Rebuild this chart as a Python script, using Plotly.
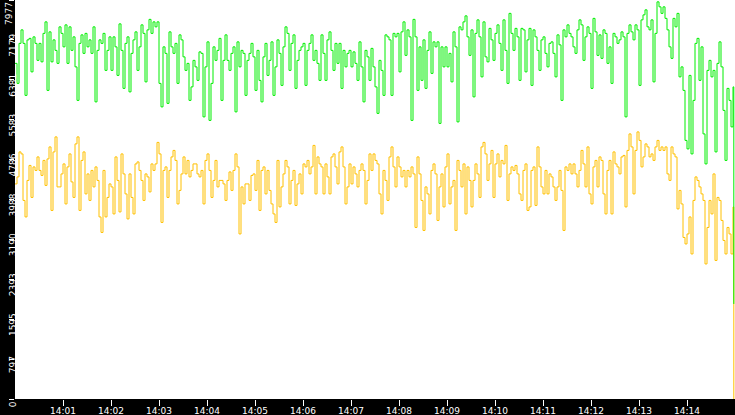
import pandas as pd
import plotly.graph_objects as go

# one sample every 2.5 seconds from 14:00:00, then the last partial sample just before 14:15
times = list(pd.date_range("2024-01-01 14:00:00", periods=360, freq="2500ms")) + [pd.Timestamp("2024-01-01 14:14:58.5")]

green_values = [
    6710, 6310, 7110, 7380, 7110, 6070, 7180, 7210, 6540, 7240, 7110, 6770, 7110, 6740, 7310, 7540, 6170, 7340, 6740, 7180, 6970, 6710, 7440, 7310,
    7040, 7480, 6710, 7440, 6970, 7240, 6640, 5970, 7110, 7280, 6910, 7310, 7040, 7180, 6910, 7440, 5940, 6970, 7180, 7110, 7310, 6570, 6970, 7240,
    6570, 7240, 7040, 6470, 7500, 6970, 6210, 7110, 7240, 6140, 6910, 7180, 7340, 6570, 7040, 7480, 7310, 6340, 7380, 7590, 7310, 7540, 7440, 7540,
    6310, 5840, 7040, 6910, 5910, 7340, 7040, 6910, 7110, 6310, 7280, 7180, 6840, 6570, 6710, 5970, 6240, 6770, 6640, 6370, 6940, 6910, 5640, 6640,
    7140, 5570, 6310, 7040, 6770, 6970, 7210, 5970, 6770, 7280, 6770, 6570, 6910, 7040, 5740, 7140, 6640, 6970, 6910, 6070, 6770, 6910, 7110, 6840,
    6170, 6970, 6370, 5940, 6840, 7110, 6470, 6770, 7140, 6070, 6640, 7180, 6910, 6270, 7040, 7440, 7310, 6570, 7110, 7280, 6210, 6770, 6970, 7040,
    7110, 6270, 6970, 7110, 7280, 6770, 6970, 6710, 6370, 7280, 6910, 6370, 7180, 7340, 6970, 6570, 7110, 6710, 7110, 6210, 6970, 6640, 6910, 6970,
    6640, 6940, 6710, 6370, 7140, 6640, 5940, 6970, 6840, 6370, 7010, 6640, 6240, 5710, 6770, 6570, 6070, 7280, 7240, 7180, 6070, 7310, 7240, 7310,
    6540, 7340, 7540, 6870, 7380, 7240, 5570, 7590, 7240, 6170, 7040, 6370, 7180, 6210, 6970, 7340, 6510, 7140, 7040, 7140, 5510, 7040, 6640, 7040,
    6640, 6910, 6340, 7340, 7040, 5540, 7440, 7380, 7540, 7660, 7240, 6870, 7380, 6040, 7310, 7580, 7240, 6440, 7540, 6840, 6740, 7410, 7180, 6770,
    7310, 7480, 7110, 6570, 7580, 6970, 6310, 7710, 7310, 6970, 7410, 7240, 6370, 7410, 7380, 6540, 7180, 7410, 6270, 7380, 7240, 6970, 6570, 7180,
    7240, 6910, 6640, 7110, 7140, 6910, 6440, 7280, 7080, 5970, 7380, 7240, 7480, 7310, 7240, 7040, 6910, 7380, 7580, 7480, 6770, 7240, 7440, 7310,
    6210, 7610, 7340, 6870, 7280, 6810, 7380, 7310, 6710, 7040, 6310, 7310, 7240, 7110, 7180, 7340, 7240, 5640, 7310, 7480, 7340, 7180, 7480, 7380,
    6270, 7580, 7680, 7780, 7440, 7380, 7580, 6340, 7310, 7940, 7840, 7710, 7840, 7610, 7380, 7040, 6810, 7610, 7440, 7710, 6440, 6640, 6170, 5170,
    5000, 6470, 4900, 5970, 7110, 7210, 6370, 7040, 5300, 4700, 6570, 6770, 6440, 6570, 4940, 6710, 7140, 6640, 5770, 4770, 6210, 5970, 5440, 6240,
    1900,
]

yellow_values = [
    4300, 4440, 4940, 4900, 3970, 3640, 4370, 4670, 4030, 4640, 4570, 4840, 4570, 4470, 4770, 4270, 4800, 5040, 3770, 4940, 5240, 4240, 4240, 4500,
    4700, 3900, 4640, 4900, 4340, 4030, 5100, 5240, 3770, 4770, 4940, 4100, 4500, 3970, 4570, 4240, 4640, 4370, 3640, 3330, 4570, 3640, 4030, 4300,
    4240, 3700, 4840, 4370, 3740, 4900, 4500, 4100, 3600, 4500, 4030, 3700, 4700, 4740, 4570, 4370, 3970, 4500, 4440, 4140, 4700, 4570, 4700, 5130,
    4900, 3530, 4570, 4640, 4030, 4570, 4840, 4970, 4770, 3900, 4170, 4500, 4840, 4500, 4770, 4440, 4570, 4700, 4700, 4500, 4440, 4570, 3900, 4770,
    4900, 4570, 4030, 4370, 4770, 4240, 4370, 4370, 4300, 3970, 4370, 4540, 4170, 4570, 4900, 4640, 3300, 4240, 3900, 4300, 4300, 3970, 4470, 4500,
    4170, 4770, 3770, 4570, 4640, 4100, 4570, 4170, 3900, 3700, 3530, 4770, 3840, 4240, 4500, 4770, 4640, 3900, 4370, 4570, 3870, 4300, 4500, 4100,
    4700, 4640, 4770, 4500, 4640, 5070, 4100, 4840, 4700, 4640, 4100, 4700, 4440, 4100, 4840, 4900, 4640, 4300, 4940, 5040, 4640, 3900, 4240, 4700,
    4300, 4640, 4500, 4240, 4570, 4700, 4570, 3900, 4370, 4900, 4570, 4900, 4770, 4700, 4100, 3700, 4570, 4370, 3970, 4840, 5040, 4640, 4240, 4840,
    4640, 4440, 4570, 4240, 4570, 4440, 4640, 4500, 3430, 4840, 4500, 3970, 3370, 4240, 4100, 3700, 4570, 4700, 4500, 3570, 4240, 4500, 3840, 4640,
    4900, 3900, 4240, 4370, 3370, 4770, 4570, 4240, 4700, 3700, 4640, 4370, 3840, 4370, 4700, 4500, 4030, 5040, 5130, 4900, 4370, 4700, 4970, 4030,
    4700, 4900, 4440, 4770, 4700, 5070, 3970, 4500, 4640, 4570, 4670, 4500, 4100, 3970, 4570, 4700, 3770, 3840, 4570, 4640, 3870, 5040, 4640, 4240,
    4100, 4570, 4100, 4500, 4440, 4240, 3970, 4240, 4570, 4170, 3370, 4640, 4570, 4700, 4500, 4700, 4500, 4240, 4570, 4970, 4700, 4240, 5040, 4100,
    3900, 4640, 4770, 4240, 4840, 4770, 4100, 3700, 4570, 4770, 3700, 4940, 4700, 4640, 4500, 4840, 4870, 3840, 4970, 5300, 5040, 4100, 4970, 5340,
    5170, 4640, 4840, 5100, 5040, 4840, 4900, 4770, 5040, 5170, 4970, 5040, 4970, 5040, 4500, 4370, 5040, 4900, 4840, 3800, 4170, 3900, 3230, 3100,
    3300, 3640, 2900, 3970, 4440, 4370, 4240, 4100, 3970, 2700, 3430, 3970, 3700, 4500, 2770, 4030, 3970, 3570, 3170, 2900, 3430, 3300, 2900, 3840,
    0,
]

y_tick_values = [0, 797.7, 1595.4, 2393.1, 3190.8, 3988.5, 4786.2, 5583.9, 6381.6, 7179.3, 7977]
y_tick_labels = ["0", "797", "1595", "2393", "3190", "3988", "4786", "5583", "6381", "7179", "7977"]
x_tick_labels = ["14:01", "14:02", "14:03", "14:04", "14:05", "14:06", "14:07",
                 "14:08", "14:09", "14:10", "14:11", "14:12", "14:13", "14:14"]
x_tick_values = ["2024-01-01 " + label + ":00" for label in x_tick_labels]

yellowLine = {"type": "scatter", "mode": "lines", "x": times, "y": yellow_values, "name": "yellow",
              "line": {"color": "#ffc000", "width": 1, "shape": "hv"}, "hoverinfo": "skip"}
greenLine = {"type": "scatter", "mode": "lines", "x": times, "y": green_values, "name": "green",
             "line": {"color": "#00ee00", "width": 1, "shape": "hv"}, "hoverinfo": "skip"}

tickFont = {"family": "DejaVu Sans", "size": 9, "color": "white"}
xAxis = {"type": "date", "range": ["2024-01-01 14:00:00", "2024-01-01 14:15:00"], "tickvals": x_tick_values,
         "ticktext": x_tick_labels, "ticks": "outside", "ticklen": 6, "tickcolor": "white", "tickfont": tickFont,
         "ticklabelstandoff": -3, "showgrid": False, "zeroline": False, "showline": False, "automargin": False}
# the top label sits inside the frame in the original, so it is drawn as an annotation below
yAxis = {"range": [0, 7977], "tickvals": y_tick_values, "ticktext": y_tick_labels[:-1] + [""], "tickangle": -90,
         "ticklabelposition": "outside bottom", "ticklabeloverflow": "allow", "ticks": "outside", "ticklen": 5,
         "tickcolor": "white", "tickfont": tickFont, "ticklabelstandoff": -6,
         "showgrid": False, "zeroline": False, "showline": False, "automargin": False}
topLabel = {"text": y_tick_labels[-1], "textangle": -90, "font": tickFont, "showarrow": False,
            "xref": "paper", "yref": "paper", "x": -0.009, "y": 1, "xanchor": "center", "yanchor": "top"}

fig = go.Figure(data=[yellowLine, greenLine])
fig.update_layout(width=735, height=415, paper_bgcolor="black", plot_bgcolor="white", showlegend=False,
                  margin={"t": 0, "b": 16, "l": 15, "r": 0}, xaxis=xAxis, yaxis=yAxis, annotations=[topLabel])

# page without body margin so the figure fills the window
pageFix = "document.body.style.margin = '0'; document.body.style.overflow = 'hidden';"
fig.write_html("out.html", config={"displayModeBar": False, "staticPlot": True}, post_script=pageFix)
